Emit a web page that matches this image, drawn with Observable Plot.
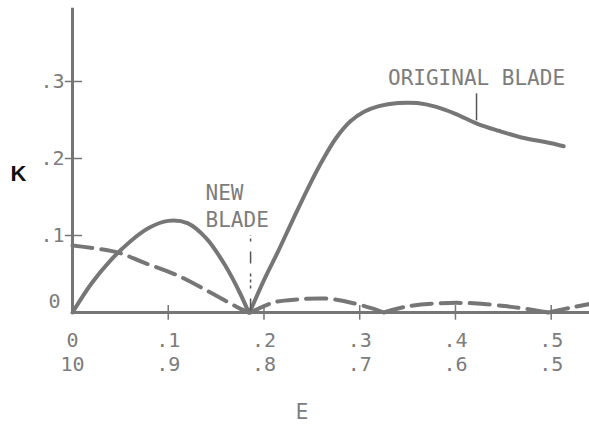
<!DOCTYPE html>
<html>
<head>
<meta charset="utf-8">
<script src="https://cdn.jsdelivr.net/npm/d3@7"></script>
<script src="https://cdn.jsdelivr.net/npm/@observablehq/plot@0.6"></script>
<style>
  html, body { margin: 0; padding: 0; background: #fff; }
  #chart svg { display: block; }
</style>
</head>
<body>
<div id="chart"></div>
<script>
// ---- data ----
// Original blade (solid), two arcs
const origA_E = [0, 0.02, 0.04, 0.06, 0.08, 0.10, 0.12, 0.14, 0.16, 0.175, 0.184];
const origA_K = [0, 0.038, 0.068, 0.092, 0.110, 0.119, 0.116, 0.096, 0.060, 0.025, 0];
const origB_E = [0.185, 0.200, 0.215, 0.230, 0.245, 0.260, 0.275, 0.290, 0.305, 0.320, 0.340, 0.360, 0.380, 0.400, 0.423, 0.445, 0.470, 0.495, 0.513];
const origB_K = [0, 0.042, 0.080, 0.120, 0.159, 0.195, 0.226, 0.248, 0.261, 0.268, 0.272, 0.272, 0.267, 0.258, 0.245, 0.236, 0.227, 0.221, 0.216];
// New blade (dashed), four arcs
const newA_E = [0, 0.047, 0.074, 0.110, 0.144, 0.175, 0.184];
const newA_K = [0.087, 0.078, 0.065, 0.048, 0.026, 0.005, 0];
const newB_E = [0.186, 0.210, 0.235, 0.266, 0.290, 0.314, 0.325];
const newB_K = [0, 0.013, 0.017, 0.018, 0.013, 0.005, 0];
const newC_E = [0.325, 0.350, 0.384, 0.419, 0.454, 0.478, 0.497];
const newC_K = [0, 0.008, 0.012, 0.012, 0.008, 0.004, 0];
const newD_E = [0.497, 0.523, 0.540];
const newD_K = [0, 0.007, 0.011];

// axis ticks
const xTicks = [0, 0.1, 0.2, 0.3, 0.4, 0.5];
const xLabels1 = ["0", ".1", ".2", ".3", ".4", ".5"];
const xLabels2 = ["10", ".9", ".8", ".7", ".6", ".5"];
const yTicks = [0.1, 0.2, 0.3];
const yLabels = [".1", ".2", ".3"];

// annotations
const origLabel = "ORIGINAL BLADE";
const origLabelE = 0.422, origLabelK = 0.304;
const newLabel = ["NEW", "BLADE"];
const newLabelE = [0.139, 0.139];
const newLabelK = [0.155, 0.120];
const leaderE = [0.422, 0.186];
const leaderK1 = [0.249, 0.002];
const leaderK2 = [0.284, 0.100];

// ---- build tables ----
const seg = (name, xs, ys) => xs.map((e, i) => ({seg: name, E: e, K: ys[i]}));
const solid = [...seg("oa", origA_E, origA_K), ...seg("ob", origB_E, origB_K)];
const dashed = [...seg("na", newA_E, newA_K), ...seg("nb", newB_E, newB_K),
                ...seg("nc", newC_E, newC_K), ...seg("nd", newD_E, newD_K)];
const newAnnos = newLabel.map((t, i) => ({t, E: newLabelE[i], K: newLabelK[i]}));
const leaders = leaderE.map((e, i) => ({E: e, K1: leaderK1[i], K2: leaderK2[i]}));

const ink = "#767676";
const textInk = "#7c7c7c";
const mono = "DejaVu Sans Mono";

const chart = Plot.plot({
  width: 589,
  height: 432,
  marginLeft: 72,
  marginRight: 0,
  marginTop: 4,
  marginBottom: 120,
  style: {fontFamily: mono, fontSize: "20px", color: textInk, background: "#fff"},
  x: {domain: [0, 0.54]},
  y: {domain: [0, 0.4]},
  marks: [
    // axis lines
    Plot.ruleY([0], {stroke: ink, strokeWidth: 3}),
    Plot.ruleX([0], {y1: 0, y2: 0.395, stroke: ink, strokeWidth: 3}),
    // crossing tick marks
    Plot.ruleX(xTicks.slice(1), {y1: -0.010, y2: 0.009, stroke: ink, strokeWidth: 1.5}),
    Plot.ruleY(yTicks, {x1: -0.0075, x2: 0.0105, stroke: ink, strokeWidth: 1.5}),
    // x tick labels, two rows
    Plot.axisX({ticks: xTicks, tickSize: 0, tickPadding: 20, tickFormat: (d, i) => xLabels1[i],
                fontFamily: mono, fontSize: 20, fill: textInk, label: null}),
    Plot.axisX({ticks: xTicks, tickSize: 0, tickPadding: 44, tickFormat: (d, i) => xLabels2[i],
                fontFamily: mono, fontSize: 20, fill: textInk, label: null}),
    // y tick labels
    Plot.axisY({ticks: yTicks, tickSize: 0, tickPadding: 8, tickFormat: (d, i) => yLabels[i],
                fontFamily: mono, fontSize: 20, fill: textInk, label: null}),
    Plot.axisY({ticks: [0], tickSize: 0, tickPadding: 12, dy: -11, tickFormat: () => "0",
                fontFamily: mono, fontSize: 20, fill: textInk, label: null}),
    // axis titles
    Plot.text(["K"], {frameAnchor: "top-left", dx: -54, dy: 161, fill: "#111",
                      fontFamily: "Liberation Sans", fontSize: 22, fontWeight: 600, textAnchor: "middle"}),
    Plot.text(["E"], {frameAnchor: "bottom", dx: -29, dy: 106, fill: textInk,
                      fontFamily: "DejaVu Sans Condensed", fontSize: 22}),
    // curves
    Plot.line(solid, {x: "E", y: "K", z: "seg", stroke: ink, strokeWidth: 4, curve: "catmull-rom"}),
    Plot.line(dashed, {x: "E", y: "K", z: "seg", stroke: ink, strokeWidth: 4,
                       strokeDasharray: "20,9", curve: "catmull-rom"}),
    // annotations
    Plot.text([origLabel], {x: () => origLabelE, y: () => origLabelK, fill: textInk,
                            fontFamily: mono, fontSize: 21, textAnchor: "middle"}),
    Plot.text(newAnnos, {x: "E", y: "K", text: "t", fill: textInk, fontFamily: mono,
                         fontSize: 21, textAnchor: "start"}),
    Plot.ruleX(leaders.slice(0, 1), {x: "E", y1: "K1", y2: "K2", stroke: "#555", strokeWidth: 1.5}),
    Plot.ruleX(leaders.slice(1), {x: "E", y1: "K1", y2: "K2", stroke: "#555", strokeWidth: 1.5,
                                  strokeDasharray: "12,10,3,3,3,3,3,10"})
  ]
});
document.getElementById("chart").appendChild(chart);
</script>
</body>
</html>
